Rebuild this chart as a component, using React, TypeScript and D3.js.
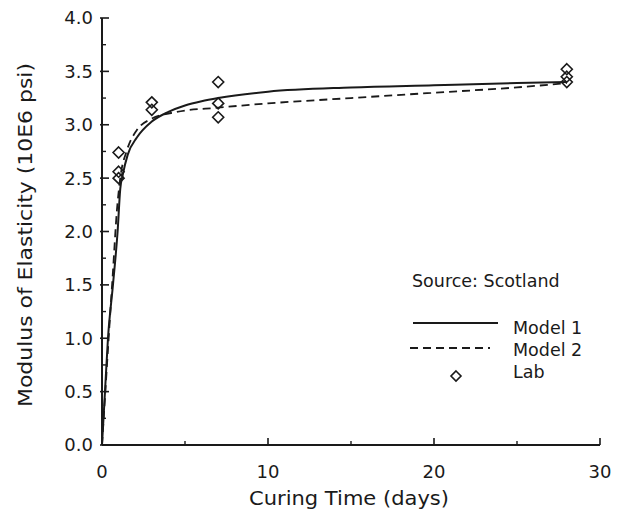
import React from "react";
import * as d3 from "d3";

const xMajorTicks = [0, 10, 20, 30];
const xMinorTicks = [5, 15, 25];
const yMajorTicks = [0, 0.5, 1.0, 1.5, 2.0, 2.5, 3.0, 3.5, 4.0];
const yMinorTicks = [0.25, 0.75, 1.25, 1.75, 2.25, 2.75, 3.25, 3.75];

const model1Days = [0, 0.18, 0.36, 0.66, 0.94, 1.1, 1.25, 1.55, 2.1, 3, 4, 5, 6, 7, 10, 15, 20, 25, 28];
const model1Values = [0, 0.5, 1.0, 1.5, 2.0, 2.4, 2.53, 2.72, 2.88, 3.03, 3.12, 3.18, 3.22, 3.25, 3.31, 3.35, 3.37, 3.39, 3.40];

const model2Days = [0, 0.2, 0.4, 0.65, 0.9, 1.1, 1.5, 2.1, 2.9, 4.5, 7, 10, 15, 20, 25, 28];
const model2Values = [0, 0.5, 1.0, 1.6, 2.2, 2.5, 2.76, 2.95, 3.05, 3.12, 3.16, 3.20, 3.25, 3.30, 3.35, 3.39];

const labDays = [1, 1, 1, 3, 3, 7, 7, 7, 28, 28, 28];
const labValues = [2.74, 2.56, 2.50, 3.21, 3.14, 3.40, 3.20, 3.07, 3.52, 3.45, 3.40];

const FONT = "'DejaVu Sans', 'Liberation Sans', Arial, sans-serif";
const INK = "#1a1a1a";

export default function App() {
  const x = d3.scaleLinear().domain([0, 30]).range([102, 600]);
  const y = d3.scaleLinear().domain([0, 4]).range([445, 18]);

  const line = d3
    .line<[number, number]>()
    .x((d) => x(d[0]))
    .y((d) => y(d[1]))
    .curve(d3.curveMonotoneX);

  const m1 = line(model1Days.map((d, i) => [d, model1Values[i]] as [number, number])) || "";
  const m2 = line(model2Days.map((d, i) => [d, model2Values[i]] as [number, number])) || "";

  const diamond = (cx: number, cy: number, r = 5.5) =>
    `M${cx},${cy - r}L${cx + r},${cy}L${cx},${cy + r}L${cx - r},${cy}Z`;

  return (
    <svg
      width={619}
      height={519}
      style={{ position: "absolute", left: 0, top: 0, background: "#fff" }}
      fontFamily={FONT}
    >
      <rect width={619} height={519} fill="#fff" />
      {/* axes */}
      <line x1={x(0)} x2={x(0)} y1={y(0)} y2={y(4)} stroke={INK} strokeWidth={2} />
      <line x1={x(0)} x2={x(30)} y1={y(0)} y2={y(0)} stroke={INK} strokeWidth={2} />
      {yMajorTicks.map((t) => (
        <g key={"ym" + t}>
          <line x1={x(0) - 2} x2={x(0) + 7} y1={y(t)} y2={y(t)} stroke={INK} strokeWidth={1.6} />
          <text x={93} y={y(t)} dy="0.36em" textAnchor="end" fontSize={18} fill={INK}>
            {t.toFixed(1)}
          </text>
        </g>
      ))}
      {yMinorTicks.map((t) => (
        <line key={"yn" + t} x1={x(0)} x2={x(0) + 4} y1={y(t)} y2={y(t)} stroke={INK} strokeWidth={1.4} />
      ))}
      {xMajorTicks.map((t) => (
        <g key={"xm" + t}>
          <line x1={x(t)} x2={x(t)} y1={y(0)} y2={y(0) - 7} stroke={INK} strokeWidth={1.6} />
          <text x={x(t)} y={478} textAnchor="middle" fontSize={18} fill={INK}>
            {t}
          </text>
        </g>
      ))}
      {xMinorTicks.map((t) => (
        <line key={"xn" + t} x1={x(t)} x2={x(t)} y1={y(0)} y2={y(0) - 4} stroke={INK} strokeWidth={1.4} />
      ))}
      {/* axis titles */}
      <text
        x={349}
        y={505}
        textAnchor="middle"
        fontSize={20}
        fill={INK}
        textLength={200}
        lengthAdjust="spacingAndGlyphs"
      >
        Curing Time (days)
      </text>
      <text
        transform={`translate(32,235) rotate(-90)`}
        textAnchor="middle"
        fontSize={20}
        fill={INK}
        textLength={344}
        lengthAdjust="spacingAndGlyphs"
      >
        Modulus of Elasticity (10E6 psi)
      </text>
      {/* curves */}
      <path d={m1} fill="none" stroke={INK} strokeWidth={2} />
      <path d={m2} fill="none" stroke={INK} strokeWidth={1.8} strokeDasharray="8,5" />
      {labDays.map((d, i) => (
        <path key={"lab" + i} d={diamond(x(d), y(labValues[i]))} fill="none" stroke={INK} strokeWidth={1.6} />
      ))}
      {/* legend */}
      <text x={412} y={287} fontSize={17.5} fill={INK}>
        Source: Scotland
      </text>
      <line x1={413} x2={498} y1={323} y2={323} stroke={INK} strokeWidth={2} />
      <text x={513} y={334} fontSize={17.5} fill={INK}>Model 1</text>
      <line x1={410} x2={490} y1={348} y2={348} stroke={INK} strokeWidth={1.8} strokeDasharray="8,5" />
      <text x={513} y={356} fontSize={17.5} fill={INK}>Model 2</text>
      <path d={diamond(456, 376, 5)} fill="none" stroke={INK} strokeWidth={1.6} />
      <text x={513} y={378} fontSize={17.5} fill={INK}>Lab</text>
    </svg>
  );
}
